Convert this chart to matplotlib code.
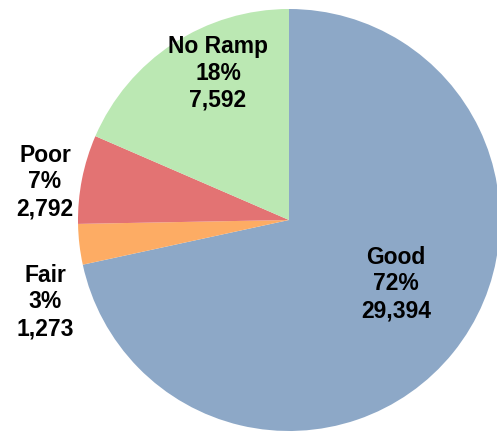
import matplotlib
matplotlib.use("Agg")
import matplotlib.pyplot as plt

categories = ["Good", "Fair", "Poor", "No Ramp"]
counts = [29394, 1273, 2792, 7592]
percent_labels = ["72%", "3%", "7%", "18%"]
colors = ["#8DA8C7", "#FDAC64", "#E37373", "#BBE8B3"]

W, H = 497, 432
fig = plt.figure(figsize=(W / 100, H / 100), dpi=100)
ax = fig.add_axes([0, 0, 1, 1])

cx, cy, r = 289, 220, 211
# y axis inverted: counterclock=True renders visually clockwise, startangle -90 -> top
ax.pie(counts, colors=colors, startangle=-90, counterclock=True,
       center=(cx, cy), radius=r, frame=True,
       wedgeprops=dict(linewidth=0))
ax.set_xlim(0, W)
ax.set_ylim(H, 0)
ax.set_aspect("equal")
ax.axis("off")

label_pos = {"Good": (396, 284), "Fair": (45, 302), "Poor": (45, 182), "No Ramp": (218, 73)}
for cat, n, p in zip(categories, counts, percent_labels):
    x, y = label_pos[cat]
    ax.text(x, y, f"{cat}\n{p}\n{n:,}", ha="center", va="center",
            fontsize=16.5, fontweight="bold", family="Liberation Sans",
            linespacing=1.22, color="black")

fig.savefig("out.png", dpi=100)
